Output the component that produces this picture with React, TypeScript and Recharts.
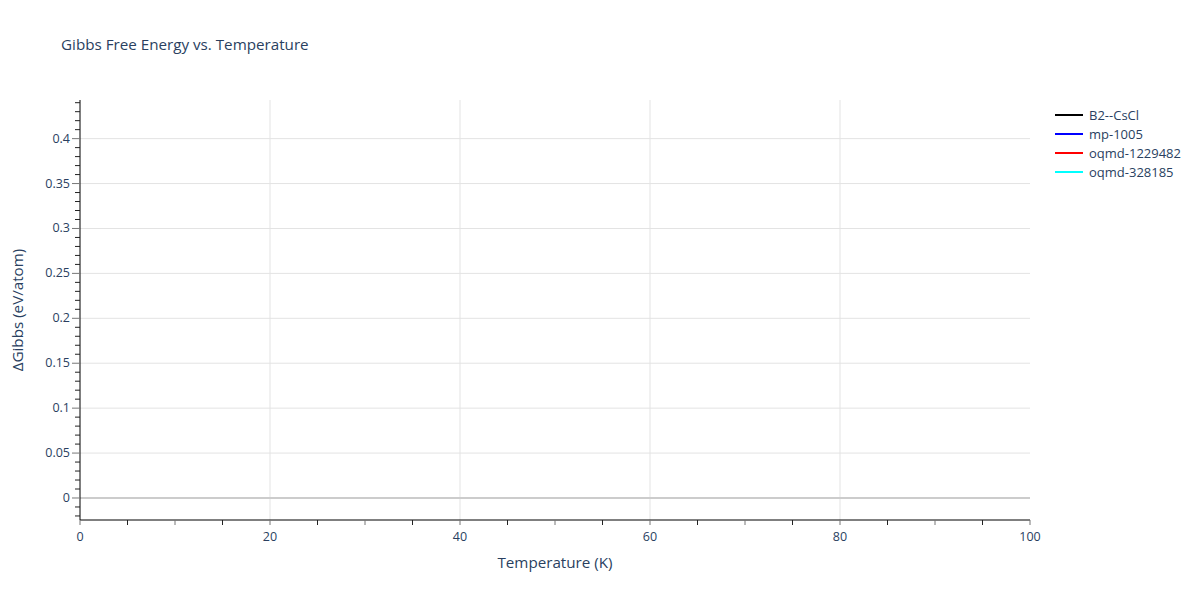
import React from "react";
import { LineChart, Line, XAxis, YAxis, ReferenceLine, Legend } from "recharts";

const temperatures: number[] = [0, 100];
const seriesNames = ["B2--CsCl", "mp-1005", "oqmd-1229482", "oqmd-328185"];
const seriesColors = ["#000000", "#0000ff", "#ff0000", "#00ffff"];
const b2CsCl: (number | null)[] = [null, null];
const mp1005: (number | null)[] = [null, null];
const oqmd1229482: (number | null)[] = [null, null];
const oqmd328185: (number | null)[] = [null, null];
const xTicks = [0, 5, 10, 15, 20, 25, 30, 35, 40, 45, 50, 55, 60, 65, 70, 75, 80, 85, 90, 95, 100];
const xLabelTicks = [0, 20, 40, 60, 80, 100];
const xGrid = [20, 40, 60, 80];
const yLabelTicks = [0, 0.05, 0.1, 0.15, 0.2, 0.25, 0.3, 0.35, 0.4];
const yMinorTicks = [-0.02, -0.01, 0, 0.01, 0.02, 0.03, 0.04, 0.05, 0.06, 0.07, 0.08, 0.09, 0.1, 0.11, 0.12, 0.13, 0.14, 0.15, 0.16, 0.17, 0.18, 0.19, 0.2, 0.21, 0.22, 0.23, 0.24, 0.25, 0.26, 0.27, 0.28, 0.29, 0.3, 0.31, 0.32, 0.33, 0.34, 0.35, 0.36, 0.37, 0.38, 0.39, 0.4, 0.41, 0.42, 0.43, 0.44];

const seriesValues = [b2CsCl, mp1005, oqmd1229482, oqmd328185];
const data = temperatures.map((t, i) => {
  const row: Record<string, number | null> = { t };
  seriesNames.forEach((n, k) => (row[n] = seriesValues[k][i]));
  return row;
});

const FONT = '"Open Sans", verdana, arial, sans-serif';
const TXT = "#2a3f5f";

const isMajor = (v: number, list: number[]) => list.some((m) => Math.abs(m - v) < 1e-9);

const XTick = (props: any) => {
  const { x, y, payload } = props;
  const v = payload.value;
  const major = Math.abs(v % 10) < 1e-9;
  return (
    <g>
      <line x1={x} x2={x} y1={y} y2={y + 5} stroke={major ? "#777" : "#222"} strokeWidth={1} />
      {isMajor(v, xLabelTicks) && (
        <text x={x} y={y + 21} textAnchor="middle" fontSize={12.5} fill={TXT} fontFamily={FONT}>
          {v}
        </text>
      )}
    </g>
  );
};

const YTick = (props: any) => {
  const { x, y, payload } = props;
  const v = payload.value;
  const major = isMajor(v, yLabelTicks);
  return (
    <g>
      <line x1={x} x2={x - (major ? 8 : 5)} y1={y} y2={y} stroke={major ? "#777" : "#222"} strokeWidth={1} />
      {major && (
        <text x={x - 10} y={y + 4} textAnchor="end" fontSize={12.5} fill={TXT} fontFamily={FONT}>
          {String(Number(v.toFixed(2)))}
        </text>
      )}
    </g>
  );
};

const LegendContent = () => (
  <div style={{ fontFamily: FONT, fontSize: 13, color: TXT }}>
    {seriesNames.map((n, i) => (
      <div key={n} style={{ display: "flex", alignItems: "center", height: 19 }}>
        <div style={{ width: 28, height: 2, background: seriesColors[i], marginRight: 6 }} />
        <span>{n}</span>
      </div>
    ))}
  </div>
);

export default function App() {
  return (
    <div style={{ position: "absolute", left: 0, top: 0, width: 1200, height: 600, background: "#fff", fontFamily: FONT }}>
      <div style={{ position: "absolute", left: 61, top: 34, fontSize: 15.2, color: TXT }}>
        Gibbs Free Energy vs. Temperature
      </div>
      <div style={{ position: "absolute", left: 80, width: 950, top: 552, fontSize: 15.2, color: TXT, textAlign: "center" }}>
        Temperature (K)
      </div>
      <div
        style={{
          position: "absolute",
          left: 17,
          top: 310,
          fontSize: 15.2,
          color: TXT,
          whiteSpace: "nowrap",
          transform: "translate(-50%, -50%) rotate(-90deg)",
        }}
      >
        ΔGibbs (eV/atom)
      </div>
      <LineChart width={1200} height={600} data={data} margin={{ top: 100, right: 30, bottom: 50, left: 0 }}>
        {xGrid.map((g) => (
          <ReferenceLine key={"x" + g} x={g} stroke="#e3e3e3" strokeWidth={1} />
        ))}
        {yLabelTicks.filter((v) => v !== 0).map((g) => (
          <ReferenceLine key={"y" + g} y={g} stroke="#e3e3e3" strokeWidth={1} />
        ))}
        <ReferenceLine y={0} stroke="#cccccc" strokeWidth={2} />
        <XAxis
          dataKey="t"
          type="number"
          domain={[0, 100]}
          ticks={xTicks}
          interval={0}
          tick={<XTick />}
          tickLine={false}
          tickSize={0}
          tickMargin={0}
          height={30}
          axisLine={{ stroke: "#000", strokeWidth: 1 }}
          allowDataOverflow
        />
        <YAxis
          type="number"
          domain={[-0.0245, 0.443]}
          ticks={yMinorTicks}
          interval={0}
          tick={<YTick />}
          tickLine={false}
          tickSize={0}
          tickMargin={0}
          width={80}
          axisLine={{ stroke: "#000", strokeWidth: 1 }}
          allowDataOverflow
        />
        {seriesNames.map((n, i) => (
          <Line key={n} dataKey={n} stroke={seriesColors[i]} strokeWidth={2} dot={false} isAnimationActive={false} connectNulls={false} />
        ))}
        <Legend
          layout="vertical"
          verticalAlign="top"
          align="right"
          content={<LegendContent />}
          wrapperStyle={{ position: "absolute", left: 1055, top: 105, width: 140 }}
        />
      </LineChart>
    </div>
  );
}
